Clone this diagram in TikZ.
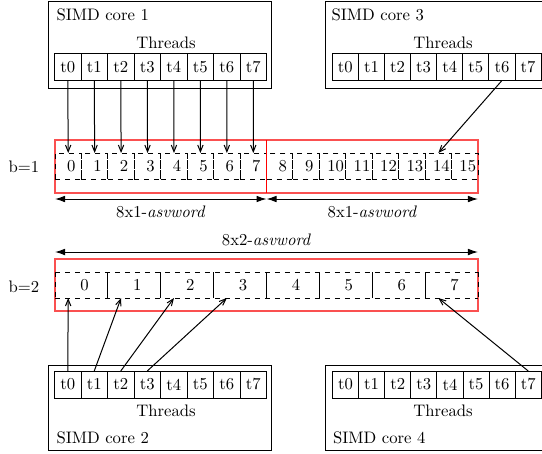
\documentclass[tikz,border=0pt]{standalone}
\usetikzlibrary{arrows.meta,calc}
\definecolor{wordred}{RGB}{250,80,80}
\begin{document}
\begin{tikzpicture}[x=0.6pt,y=-0.6pt, line width=0.6pt,
  every node/.style={inner sep=0pt, outer sep=0pt},
  corebox/.style={draw, anchor=north west, minimum width=134pt},
  thread/.style={draw, anchor=north west, minimum height=16.2pt},
  memcell/.style={anchor=north west, minimum height=15.6pt},
  wordbox/.style={draw=wordred, line width=0.8pt, anchor=north west, minimum width=253.8pt},
  arr/.style={-{Straight Barb[length=4pt,width=3.2pt]}},
  dim/.style={{Latex[length=6pt,width=4pt]}-{Latex[length=6pt,width=4pt]}}]
\clip (0,0) rectangle (542,453);

% ---- SIMD cores: outer boxes ----
\node[corebox, minimum height=52.2pt] (core1) at (48,1) {};
\node[corebox, minimum height=52.2pt] (core3) at (325,1) {};
\node[corebox, minimum height=51pt] (core2) at (48,365) {};
\node[corebox, minimum height=51pt] (core4) at (325,365) {};

% ---- thread cells ----
\foreach \i in {0,...,7} {
  \node[thread, minimum width=15.9pt] (c1t\i) at ({54.5+26.5*\i},53.5) {t\i};
  \node[thread, minimum width=15.66pt] (c3t\i) at ({332.3+26.1*\i},53.5) {t\i};
  \node[thread, minimum width=15.9pt] (c2t\i) at ({54.5+26.5*\i},371) {t\i};
  \node[thread, minimum width=15.66pt] (c4t\i) at ({332.5+26.1*\i},371) {t\i};
}

% ---- core captions ----
\node[anchor=base west] (c1name) at (56.5,20.5) {SIMD core 1};
\node[anchor=base] (c1thr) at (166,48) {Threads};
\node[anchor=base west] (c3name) at (331.5,20.5) {SIMD core 3};
\node[anchor=base] (c3thr) at (443,48) {Threads};
\node[anchor=base] (c2thr) at (166,416.5) {Threads};
\node[anchor=base west] (c2name) at (56.5,443.5) {SIMD core 2};
\node[anchor=base] (c4thr) at (443,416.5) {Threads};
\node[anchor=base west] (c4name) at (333,443.5) {SIMD core 4};

% ---- memory layout, b=1 ----
\node (b1) at (24,167) {b=1};
\node[wordbox, minimum height=31.8pt] (w1) at (55,140) {};
\foreach \i in {0,...,15} {
  \node[memcell, draw, dashed, minimum width=15.864pt] (m1c\i) at ({55+26.44*\i},153) {};
  \node (n1c\i) at ($(m1c\i.center)+(3,0)$) {\i};
}
\draw[red, line width=0.8pt] (m1c8.north west |- w1.north) -- (m1c8.south west |- w1.south);

\coordinate (d1a) at ($(w1.south west)+(0,6)$);
\coordinate (d1b) at ($(m1c8.west |- w1.south)+(0,6)$);
\coordinate (d1c) at ($(w1.south east)+(0,6)$);
\draw[dim] (d1a) -- (d1b);
\draw[dim] (d1b) -- (d1c);
\node (dl1) at ($(d1a)!0.5!(d1b)+(0,13)$) {8x1-\textit{asvword}};
\node (dl2) at ($(d1b)!0.5!(d1c)+(0,13)$) {8x1-\textit{asvword}};

% ---- memory layout, b=2 ----
\node (b2) at (24,287) {b=2};
\node[wordbox, minimum height=31.2pt] (w2) at (55,259) {};
\foreach \i in {0,...,7} {
  \node[memcell, minimum width=31.725pt] (m2c\i) at ({55+52.875*\i},272) {};
  \node (n2c\i) at ($(m2c\i.center)+(3,0)$) {\i};
}
\draw[dashed] (m2c0.north west) -- (m2c7.north east);
\draw[dashed] (m2c0.south west) -- (m2c7.south east);
\draw[dashed] (m2c0.north west) -- (m2c0.south west);
\draw[dashed] (m2c7.north east) -- (m2c7.south east);
\foreach \i in {1,...,7} {
  \draw (m2c\i.north west) -- (m2c\i.south west);
}

\coordinate (d2a) at ($(w2.north west)+(0,-7)$);
\coordinate (d2b) at ($(w2.north east)+(0,-7)$);
\draw[dim] (d2a) -- (d2b);
\node (dl3) at ($(d2a)!0.5!(d2b)+(0,-12)$) {8x2-\textit{asvword}};

% ---- thread-to-memory accesses ----
\foreach \i in {0,...,7} {
  \draw[arr] (c1t\i.south) -- (m1c\i.north);
}
\draw[arr] (c3t6.south) -- (m1c14.north);
\foreach \i in {0,...,3} {
  \draw[arr] (c2t\i.north) -- ($(m2c\i.south west)!0.25!(m2c\i.south east)$);
}
\draw[arr] (c4t7.north) -- ($(m2c7.south west)!0.25!(m2c7.south east)$);
\end{tikzpicture}
\end{document}
